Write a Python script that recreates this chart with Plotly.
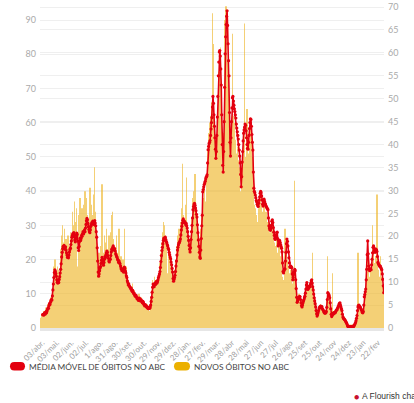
import datetime as dt
import plotly.graph_objects as go

# ---------------- data ----------------
bar_start = dt.date(2020, 3, 30)   # first daily bar
ma_start = dt.date(2020, 4, 4)     # first moving-average point

novos_obitos = [
    3, 2, 4, 2, 3,
    4, 2, 5, 3, 1, 4, 6, 2, 3, 5, 3, 7, 4, 6, 2, 8, 5, 9, 4, 7, 10, 6, 14, 18, 11, 20, 9, 13, 16,
    8, 18, 12, 5, 17, 9, 15, 20, 23, 10, 27, 14, 30, 11, 25, 15, 29, 8, 22, 26, 12, 21, 10, 27, 13, 9, 24, 15, 28, 12,
    26, 12, 34, 22, 30, 10, 37, 24, 14, 31, 27, 35, 9, 18, 33, 12, 28, 20, 38, 11, 30, 19, 35, 15, 32, 13, 36, 24, 40, 17,
    28, 38, 18, 33, 14, 31, 20, 41, 13, 41, 25, 36, 15, 33, 26, 39, 20, 30, 47, 14, 34, 12, 25, 10, 7, 18, 9, 22, 12, 19,
    16, 24, 13, 42, 10, 20, 9, 22, 27, 12, 25, 14, 29, 11, 23, 10, 19, 27, 9, 22, 13, 28, 20, 33, 12, 34, 16, 26, 14, 24,
    23, 13, 11, 27, 17, 10, 22, 9, 29, 15, 12, 8, 21, 13, 10, 8, 20, 9, 13, 29, 11, 7, 18, 9, 6, 15, 8, 13, 5, 11,
    9, 12, 6, 11, 7, 13, 5, 10, 6, 9, 11, 5, 7, 10, 4, 9, 5, 8, 4, 10, 6, 3, 8, 4, 9, 5, 3, 8, 4, 7,
    5, 3, 7, 2, 6, 3, 7, 2, 6, 3, 5, 2, 7, 4, 9, 6, 11, 14, 8, 12, 7, 15, 9, 8, 14, 10, 9, 15, 8, 16,
    14, 8, 19, 12, 22, 25, 14, 28, 17, 31, 22, 13, 30, 18, 27, 14, 25, 16, 12, 24, 15, 11, 23, 10, 20, 9, 18, 8, 17, 7,
    12, 15, 7, 17, 10, 20, 13, 24, 14, 27, 16, 29, 18, 26, 31, 17, 35, 21, 30, 48, 19, 33, 18, 30, 36, 16, 28, 44, 15, 27,
    22, 25, 12, 23, 11, 24, 27, 32, 20, 35, 38, 23, 40, 26, 45, 21, 34, 18, 31, 15, 26, 12, 23, 10, 21, 13, 29, 17, 33, 22,
    34, 26, 38, 29, 41, 25, 37, 31, 44, 33, 52, 34, 57, 36, 49, 60, 35, 62, 40, 66, 92, 83, 42, 56, 35, 51, 30, 45, 49, 55,
    55, 63, 49, 75, 70, 52, 82, 50, 64, 40, 46, 30, 28, 50, 57, 85, 90, 66, 94, 84, 70, 78, 54, 71, 49, 58, 36, 47, 52, 56,
    58, 86, 47, 62, 45, 60, 41, 55, 43, 51, 38, 53, 37, 49, 34, 47, 32, 40, 24, 36, 42, 33, 51, 37, 55, 39, 89, 41, 50, 36,
    48, 64, 33, 44, 36, 51, 40, 55, 42, 58, 38, 50, 35, 45, 27, 36, 26, 35, 24, 34, 25, 33, 23, 31, 22, 35, 21, 37, 24, 38,
    36, 23, 32, 22, 34, 21, 37, 22, 33, 19, 34, 20, 29, 22, 31, 17, 25, 16, 28, 15, 27, 19, 30, 18, 26, 15, 23, 16, 25, 14,
    24, 16, 27, 19, 14, 22, 17, 25, 15, 21, 18, 13, 22, 12, 15, 9, 14, 11, 16, 29, 13, 21, 24, 16, 20, 13, 18, 11, 16, 10,
    17, 9, 15, 18, 8, 13, 10, 14, 9, 43, 14, 7, 9, 4, 7, 5, 9, 4, 10, 6, 8, 3, 6, 4, 3, 8, 4, 9, 5, 8,
    6, 10, 7, 12, 13, 7, 10, 8, 12, 6, 11, 8, 14, 13, 9, 22, 11, 6, 9, 4, 7, 3, 5, 2, 4, 1, 4, 3, 5, 4,
    6, 3, 7, 3, 6, 4, 5, 2, 5, 2, 4, 3, 2, 5, 4, 8, 21, 6, 9, 5, 8, 4, 5, 2, 1, 4, 2, 16, 2, 5,
    2, 5, 3, 4, 3, 6, 4, 6, 4, 7, 5, 7, 6, 4, 5, 3, 4, 2, 3, 1, 2, 1, 3, 1, 2, 0, 1, 0, 1, 0,
    0, 1, 0, 0, 1, 0, 0, 1, 0, 0, 0, 1, 1, 1, 2, 2, 3, 4, 5, 22, 4, 7, 4, 6, 3, 5, 4, 2, 5, 3,
    5, 4, 9, 7, 11, 8, 15, 12, 21, 24, 14, 17, 10, 15, 11, 17, 12, 18, 14, 30, 16, 22, 15, 19, 14, 21, 15, 20, 39, 13,
    17, 12, 15, 11, 14, 21, 11, 15, 9, 12, 8, 10, 6,
]

media_movel = [
    2.9, 3.0, 2.8, 3.1, 3.3, 3.0, 3.4, 3.6, 3.3, 3.7, 4.1, 4.4, 4.3, 4.9, 5.3, 5.1, 5.6, 6.0, 6.2, 6.1, 7.0, 8.3, 9.6, 11.0, 12.1, 12.7, 12.4, 11.9, 11.3,
    10.5, 10.0, 9.8, 10.3, 9.9, 10.6, 11.2, 12.0, 12.8, 14.0, 15.5, 16.5, 17.3, 17.8, 17.6, 18.0, 17.5, 17.2, 17.7, 17.0, 16.4, 15.9, 15.4, 15.7, 15.3, 15.9, 16.6, 17.1, 17.4, 18.2,
    19.0, 19.8, 20.2, 20.6, 20.4, 20.8, 19.9, 19.2, 18.8, 19.5, 20.3, 20.7, 20.4, 19.0, 17.5, 16.9, 17.8, 18.9, 19.6, 19.1, 19.5, 20.2, 20.0, 20.6, 21.0, 20.5, 20.9, 21.4, 21.0, 21.8,
    22.6, 23.4, 23.9, 23.6, 22.8, 22.1, 21.5, 21.0, 20.8, 21.4, 22.2, 22.6, 23.0, 22.7, 23.3, 23.0, 22.6, 23.1, 23.4, 22.9, 22.3, 21.0, 19.8, 17.5, 14.6, 12.2, 11.3, 11.8, 12.5, 13.1,
    13.4, 14.1, 14.8, 15.4, 15.0, 14.2, 13.7, 14.3, 15.0, 15.6, 15.4, 16.0, 16.4, 16.8, 16.5, 15.8, 15.2, 14.6, 14.4, 14.9, 15.0, 15.8, 16.6, 17.2, 17.0, 17.6, 17.9, 17.4, 17.0, 17.3,
    16.8, 16.2, 15.9, 15.6, 15.4, 15.0, 14.8, 14.3, 14.6, 14.2, 14.0, 13.5, 13.1, 12.8, 12.5, 12.9, 12.6, 12.2, 12.8, 13.3, 13.0, 12.4, 12.0, 11.4, 11.0, 10.3, 9.9, 9.4, 9.6, 9.2,
    9.0, 8.8, 8.5, 8.7, 8.3, 8.0, 8.2, 7.8, 7.5, 7.6, 7.2, 7.0, 6.9, 7.1, 6.7, 6.4, 6.6, 6.2, 6.0, 6.3, 6.5, 6.1, 5.9, 6.2, 6.0, 5.7, 5.5, 5.8, 5.6, 5.2,
    5.0, 4.8, 5.1, 4.9, 4.7, 4.5, 4.6, 4.3, 4.4, 4.2, 4.5, 4.3, 4.6, 5.0, 5.8, 6.7, 7.8, 8.9, 9.6, 9.3, 9.0, 9.4, 9.8, 9.5, 9.9, 10.2, 9.8, 10.1, 10.5, 11.0,
    11.4, 11.8, 12.3, 13.2, 14.5, 15.8, 16.9, 17.6, 18.4, 19.1, 19.6, 19.2, 19.5, 19.8, 19.3, 18.9, 18.6, 18.2, 17.9, 17.4, 17.1, 16.5, 16.0, 15.5, 15.1, 14.4, 13.8, 13.0, 12.2, 10.8,
    10.2, 10.6, 11.0, 11.5, 12.3, 13.5, 14.6, 15.9, 17.0, 17.6, 18.1, 18.5, 18.7, 19.0, 19.4, 20.3, 21.4, 22.2, 22.9, 23.5, 23.8, 23.4, 23.0, 23.2, 22.9, 22.5, 22.8, 22.3, 21.8, 21.0,
    20.0, 19.1, 18.0, 17.2, 16.6, 17.5, 19.3, 21.0, 22.4, 24.0, 25.8, 26.5, 26.9, 27.2, 26.8, 26.2, 25.6, 24.8, 24.2, 22.5, 20.8, 19.2, 17.8, 16.5, 15.5, 15.2, 17.0, 19.5, 22.3, 24.6,
    29.7, 30.2, 30.8, 31.3, 31.6, 32.0, 32.5, 32.9, 33.1, 33.4, 36.0, 38.9, 39.6, 40.2, 40.5, 40.9, 42.0, 43.4, 44.8, 45.9, 48.2, 50.5, 49.0, 46.5, 44.0, 41.5, 39.0, 37.0, 38.5, 42.0,
    46.0, 50.5, 55.0, 58.0, 60.2, 60.5, 59.3, 56.5, 53.0, 46.5, 40.0, 35.5, 34.0, 38.5, 45.0, 52.5, 59.8, 63.5, 66.2, 68.0, 69.2, 66.0, 62.0, 58.3, 55.0, 47.0, 40.5, 37.5, 41.5, 45.0,
    48.0, 50.2, 50.5, 49.5, 48.6, 47.8, 47.2, 46.5, 45.8, 44.5, 43.6, 42.8, 42.0, 41.2, 40.0, 38.8, 37.5, 36.0, 33.5, 30.8, 33.0, 36.2, 38.5, 40.8, 42.5, 43.2, 43.8, 44.5, 44.2, 43.0,
    41.5, 40.0, 39.2, 39.0, 40.5, 42.0, 43.5, 44.8, 45.6, 45.5, 44.0, 42.2, 40.5, 38.8, 34.0, 30.5, 29.8, 29.5, 29.0, 28.4, 27.8, 27.5, 27.0, 26.7, 26.5, 27.2, 27.9, 28.6, 29.4, 29.8,
    29.5, 28.8, 27.9, 27.0, 26.6, 27.4, 28.1, 27.6, 27.2, 26.9, 26.6, 26.4, 26.2, 26.0, 25.8, 24.0, 22.3, 21.8, 21.5, 21.3, 21.6, 22.4, 23.3, 23.6, 23.0, 21.9, 20.9, 20.2, 19.6, 19.3,
    19.8, 20.3, 20.8, 20.9, 19.5, 17.9, 18.3, 18.8, 19.1, 18.7, 18.2, 17.8, 17.4, 16.6, 14.2, 12.3, 12.0, 12.5, 12.8, 12.9, 14.6, 16.5, 18.4, 19.4, 18.9, 17.9, 16.6, 15.3, 14.2, 13.4,
    13.2, 13.5, 13.3, 13.2, 11.8, 10.5, 11.0, 11.7, 12.3, 12.8, 12.5, 10.5, 8.6, 6.7, 5.6, 5.9, 6.3, 6.5, 6.7, 6.9, 6.8, 6.2, 5.5, 4.9, 4.6, 5.0, 5.5, 5.9, 6.2, 6.6,
    6.9, 7.6, 8.5, 9.4, 9.9, 9.2, 8.4, 8.6, 8.8, 9.1, 9.0, 9.4, 9.8, 10.3, 10.5, 9.8, 9.0, 8.3, 7.4, 6.6, 5.9, 5.3, 4.6, 3.8, 3.1, 2.6, 2.9, 3.3, 3.8, 4.2,
    4.5, 4.6, 4.8, 4.5, 4.7, 4.6, 4.2, 4.0, 3.8, 3.5, 3.4, 3.2, 3.5, 3.3, 3.6, 4.5, 6.2, 7.7, 7.5, 7.3, 7.0, 6.6, 5.5, 4.2, 3.0, 2.5, 2.8, 3.2, 3.0, 3.3,
    3.2, 3.4, 3.3, 3.5, 3.8, 3.9, 4.0, 4.3, 4.6, 4.8, 5.1, 5.4, 5.5, 5.0, 4.6, 4.2, 3.8, 3.0, 2.4, 2.2, 2.0, 1.9, 1.8, 1.6, 1.4, 1.2, 1.0, 0.7, 0.4, 0.3,
    0.3, 0.2, 0.3, 0.3, 0.2, 0.3, 0.2, 0.3, 0.3, 0.4, 0.3, 0.5, 0.7, 0.9, 1.2, 1.6, 2.1, 2.7, 3.8, 4.6, 4.9, 5.0, 4.8, 4.6, 4.5, 4.2, 4.0, 3.7, 3.4, 3.3,
    3.6, 5.0, 6.8, 7.3, 7.9, 8.5, 10.5, 12.8, 16.0, 19.0, 16.2, 13.5, 12.9, 12.5, 12.7, 12.9, 12.7, 13.8, 15.0, 16.4, 17.6, 17.9, 17.5, 16.9, 16.5, 16.8, 17.2, 17.0, 16.7, 15.6,
    14.3, 14.0, 13.8, 13.6, 13.4, 13.5, 13.2, 12.9, 12.7, 11.8, 10.6, 9.2, 7.7,
]

tick_dates = [dt.date(2020, 4, 3) + dt.timedelta(days=30 * k) for k in range(24)]
tick_labels = ["03/abr.", "03/mai.", "02/jun.", "02/jul.", "1/ago.", "31/ago.", "30/set.",
               "30/out.", "29/nov.", "29/dez.", "28/jan.", "27/fev.", "29/mar.", "28/abr",
               "28/mai", "27/jun", "27/jul", "26/ago", "25/set", "25/out", "24/nov",
               "24/dez", "23/jan", "22/fev"]

legend_labels = ["MÉDIA MÓVEL DE ÓBITOS NO ABC", "NOVOS ÓBITOS NO ABC"]

bar_dates = [bar_start + dt.timedelta(days=i) for i in range(len(novos_obitos))]
ma_dates = [ma_start + dt.timedelta(days=i) for i in range(len(media_movel))]

RED = "#e3000f"
YELLOW = "#ebb000"
FONT = "Lato, 'Open Sans', sans-serif"

W, H = 414, 403
L, R, T, B = 40, 30, 5, 75
pw, ph = W - L - R, H - T - B

fig = go.Figure()
fig.add_trace(go.Bar(x=bar_dates, y=novos_obitos, marker=dict(color="#eeb21c", line=dict(width=0)),
                     opacity=0.6, name=legend_labels[1], yaxis="y", showlegend=False))
fig.add_trace(go.Scatter(x=ma_dates, y=media_movel, mode="lines+markers", yaxis="y2",
                         line=dict(color=RED, width=1.6), marker=dict(color=RED, size=3.2),
                         name=legend_labels[0], showlegend=False))

x0 = dt.datetime(2020, 3, 29, 12)
x1 = dt.datetime(2022, 3, 6, 12)

fig.update_layout(
    width=W, height=H, margin=dict(l=L, r=R, t=T, b=B, autoexpand=False),
    paper_bgcolor="white", plot_bgcolor="white",
    font=dict(family=FONT, color="#999", size=9),
    bargap=0.2,
    xaxis=dict(type="date", range=[x0, x1], tickvals=tick_dates, ticktext=tick_labels,
               tickangle=-45, showgrid=False, showline=True, linecolor="#e6e6e6", linewidth=3,
               ticks="", tickfont=dict(size=8, color="#a0a0a0"), zeroline=False, automargin=False,
               ticklabelstandoff=4),
    yaxis=dict(range=[0, 94.4], dtick=10, showgrid=True, gridcolor="#efefef", gridwidth=1,
               zeroline=False, ticks="", tickfont=dict(size=9, color="#aaa"), ticklabelstandoff=3,
               automargin=False),
    yaxis2=dict(range=[0, 70.45], dtick=5, overlaying="y", side="right", showgrid=True,
                gridcolor="#efefef", gridwidth=1, zeroline=False, ticks="",
                tickfont=dict(size=9, color="#aaa"), ticklabelstandoff=3, automargin=False),
)


def px2paper(px, py):
    return (px - L) / pw, (H - B - py) / ph


def pill(xa, xb, ya, yb, color):
    r = (yb - ya) / 2

    def P(x, y):
        u, v = px2paper(x, y)
        return f"{u:.5f},{v:.5f}"
    path = (f"M{P(xa + r, ya)} L{P(xb - r, ya)} Q{P(xb, ya)} {P(xb, ya + r)} "
            f"Q{P(xb, yb)} {P(xb - r, yb)} L{P(xa + r, yb)} Q{P(xa, yb)} {P(xa, yb - r)} "
            f"Q{P(xa, ya)} {P(xa + r, ya)} Z")
    return dict(type="path", xref="paper", yref="paper", path=path,
                fillcolor=color, line=dict(width=0))


fig.add_shape(pill(10, 25, 362, 370.5, RED))
fig.add_shape(pill(174, 190, 362, 370.5, YELLOW))

for xp, txt in [(27, legend_labels[0]), (192, legend_labels[1])]:
    u, v = px2paper(xp, 366.5)
    fig.add_annotation(x=u, y=v, xref="paper", yref="paper", text=txt, showarrow=False,
                       xanchor="left", yanchor="middle",
                       font=dict(family=FONT, size=8.3, color="#444"))

u, v = px2paper(356, 396)
fig.add_annotation(x=u, y=v, xref="paper", yref="paper", text="●", showarrow=False,
                   xanchor="center", yanchor="middle", font=dict(size=9, color="#c8102e"))
u, v = px2paper(360, 396)
fig.add_annotation(x=u, y=v, xref="paper", yref="paper", text="A Flourish chart", showarrow=False,
                   xanchor="left", yanchor="middle",
                   font=dict(family="Liberation Sans, Arial, sans-serif", size=8.5, color="#333"))

fig.write_html("out.html", config={"displayModeBar": False},
               post_script="document.body.style.margin='0';document.body.style.overflow='hidden';")
